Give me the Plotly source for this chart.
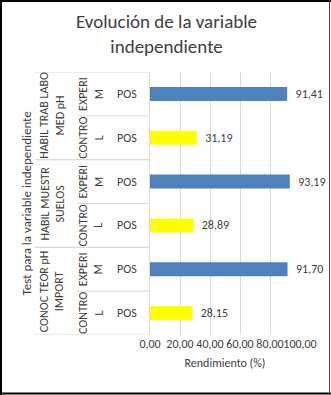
import plotly.graph_objects as go

# Data (bottom to top, as in the Excel chart)
groups = ["CONOC TEOR pH<br>IMPORT", "CONOC TEOR pH<br>IMPORT",
          "HABIL MUESTR<br>SUELOS", "HABIL MUESTR<br>SUELOS",
          "HABIL TRAB LABO<br>MED pH", "HABIL TRAB LABO<br>MED pH"]
subgroups = ["CONTRO<br>L", "EXPERI<br>M", "CONTRO<br>L", "EXPERI<br>M", "CONTRO<br>L", "EXPERI<br>M"]
tests = ["POS", "POS", "POS", "POS", "POS", "POS"]
values = [28.15, 91.70, 28.89, 93.19, 31.19, 91.41]
sub_colors = {"CONTRO<br>L": "#FFFF00", "EXPERI<br>M": "#4F81BD"}

title_text = "Evolución de la variable<br>independiente"
x_title = "Rendimiento (%)"
y_title = "Test para la variable independiente"
x_ticks = [0, 20, 40, 60, 80, 100]

FONT = "Carlito, Calibri, Liberation Sans Narrow, Liberation Sans, sans-serif"
W, H = 331, 395
ML, MR, MT, MB = 150, 31, 72, 60
PW = W - ML - MR
PH = H - MT - MB

def px2paper_x(px):
    return (px - ML) / PW

def px2paper_y(py):
    return (H - MB - py) / PH

keys = [f"{g}|{s}|{i}" for i, (g, s) in enumerate(zip(groups, subgroups))]
colors = [sub_colors[s] for s in subgroups]

fig = go.Figure()
fig.add_trace(go.Bar(
    x=values, y=keys, orientation="h",
    marker=dict(color=colors, line=dict(width=0)),
    width=0.32,
    text=values, texttemplate="  %{x:.2f}", textposition="outside",
    textfont=dict(family=FONT, size=12, color="#404040"),
    cliponaxis=False, hoverinfo="skip",
))

annotations = []
shapes = []
n = len(keys)
for i, k in enumerate(keys):
    annotations.append(dict(x=px2paper_x(127), xref="paper", y=k, yref="y",
                            xanchor="center", yanchor="middle",
                            text=tests[i], showarrow=False,
                            font=dict(family=FONT, size=12, color="#404040")))
    annotations.append(dict(x=px2paper_x(91), xref="paper", y=k, yref="y",
                            xanchor="center", yanchor="middle",
                            text=subgroups[i], showarrow=False, textangle=-90,
                            font=dict(family=FONT, size=12, color="#404040")))
seen = []
for g in groups:
    if g not in seen:
        seen.append(g)
for g in seen:
    idx = [i for i, gg in enumerate(groups) if gg == g]
    yc = sum(idx) / len(idx)
    annotations.append(dict(x=px2paper_x(52), xref="paper", y=yc, yref="y",
                            xanchor="center", yanchor="middle",
                            text=g, showarrow=False, textangle=-90,
                            font=dict(family=FONT, size=12, color="#404040")))
    for yb in (min(idx) - 0.5, max(idx) + 0.5):
        shapes.append(dict(type="line", xref="paper", yref="y",
                           x0=px2paper_x(35), x1=0, y0=yb, y1=yb,
                           line=dict(color="#D9D9D9", width=1)))
for i in range(n - 1):
    if groups[i] == groups[i + 1]:
        shapes.append(dict(type="line", xref="paper", yref="y",
                           x0=px2paper_x(77), x1=0, y0=i + 0.5, y1=i + 0.5,
                           line=dict(color="#D9D9D9", width=1)))
annotations.append(dict(x=px2paper_x(26), xref="paper", y=0.5, yref="paper",
                        xanchor="center", yanchor="middle",
                        text=y_title, showarrow=False, textangle=-90,
                        font=dict(family=FONT, size=13, color="#404040")))
# chart title
annotations.append(dict(x=px2paper_x(166), xref="paper", y=px2paper_y(34), yref="paper",
                        xanchor="center", yanchor="middle",
                        text=title_text, showarrow=False,
                        font=dict(family=FONT, size=19, color="#404040")))

shapes += [
    dict(type="line", xref="paper", yref="paper", x0=px2paper_x(0), x1=px2paper_x(331),
         y0=px2paper_y(1), y1=px2paper_y(1), line=dict(color="#000000", width=2)),
    dict(type="line", xref="paper", yref="paper", x0=px2paper_x(1), x1=px2paper_x(1),
         y0=px2paper_y(0), y1=px2paper_y(395), line=dict(color="#000000", width=2)),
    dict(type="line", xref="paper", yref="paper", x0=px2paper_x(0), x1=px2paper_x(331),
         y0=px2paper_y(393.5), y1=px2paper_y(393.5), line=dict(color="#000000", width=2)),
    dict(type="line", xref="paper", yref="paper", x0=px2paper_x(329.5), x1=px2paper_x(329.5),
         y0=px2paper_y(0), y1=px2paper_y(395), line=dict(color="#404040", width=1)),
]

fig.update_layout(
    width=W, height=H,
    margin=dict(l=ML, r=MR, t=MT, b=MB),
    paper_bgcolor="white", plot_bgcolor="white",
    separators=",.",
    showlegend=False,
    xaxis=dict(range=[0, 100], tickvals=x_ticks, tickformat=".2f", tickangle=0,
               showgrid=True, gridcolor="#D9D9D9", gridwidth=1,
               zeroline=False, showline=False, ticks="",
               tickfont=dict(family=FONT, size=12, color="#404040"),
               title=dict(text=x_title, standoff=8,
                          font=dict(family=FONT, size=12, color="#404040"))),
    yaxis=dict(categoryorder="array", categoryarray=keys, range=[-0.5, n - 0.5],
               showticklabels=False, showgrid=False, zeroline=False,
               showline=True, linecolor="#D9D9D9", linewidth=1, ticks=""),
    annotations=annotations,
    shapes=shapes,
    bargap=0.68,
)

fig.write_html(
    "out.html",
    config={"displayModeBar": False},
    post_script="document.body.style.margin='0';document.body.style.padding='0';"
                "document.documentElement.style.overflow='hidden';window.scrollTo(0,0);",
)
